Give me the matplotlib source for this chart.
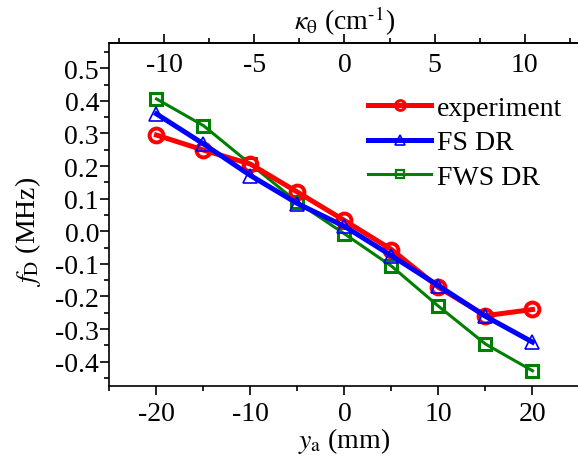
import matplotlib
matplotlib.use("Agg")
import matplotlib.pyplot as plt
from matplotlib.lines import Line2D
from matplotlib.ticker import MultipleLocator, FormatStrFormatter

plt.rcParams['font.family'] = ['Liberation Serif', 'DejaVu Serif']
plt.rcParams['mathtext.fontset'] = 'stix'
plt.rcParams['axes.unicode_minus'] = False

# data
y_a = [-20, -15, -10, -5, 0, 5, 10, 15, 20]
experiment = [0.295, 0.249, 0.206, 0.120, 0.033, -0.056, -0.172, -0.259, -0.240]
fs_dr = [0.360, 0.268, 0.171, 0.085, 0.015, -0.075, -0.167, -0.261, -0.340]
fws_dr = [0.406, 0.324, 0.206, 0.089, -0.008, -0.107, -0.230, -0.346, -0.428]
labels = ['experiment', 'FS DR', 'FWS DR']
kappa_ticks = [-10, -5, 0, 5, 10]
k_scale = 0.522  # kappa (cm^-1) per mm

fs = 20
fig = plt.figure(figsize=(5.78, 4.60), dpi=100)
ax = fig.add_axes([0.1894, 0.1578, 0.8132, 0.7476])

ax.plot(y_a, experiment, color='red', lw=3.6, marker='o', ms=10, mfc='none',
        mew=2.8, zorder=3)
ax.plot(y_a, fs_dr, color='blue', lw=3.6, marker='^', ms=10, mfc='none',
        mew=1.2, zorder=4)
ax.plot(y_a, fws_dr, color='green', lw=2.2, marker='s', ms=9, mfc='none',
        mew=2.2, zorder=2)

ax.set_xlim(-25, 25)
ax.set_ylim(-0.476, 0.579)
ax.xaxis.set_major_locator(MultipleLocator(10))
ax.xaxis.set_minor_locator(MultipleLocator(5))
ax.yaxis.set_major_locator(MultipleLocator(0.1))
ax.yaxis.set_minor_locator(MultipleLocator(0.05))
ax.yaxis.set_major_formatter(FormatStrFormatter('%.1f'))
ax.tick_params(which='both', direction='out', labelsize=fs, width=1.2)
ax.tick_params(which='major', length=6.5)
ax.tick_params(which='minor', length=3.5)
ax.tick_params(axis='x', top=False, pad=4)
ax.tick_params(axis='y', right=False, pad=1)
ax.spines['right'].set_visible(False)
for s in ax.spines.values():
    s.set_linewidth(1.2)

ax.set_xlabel(r'$y_{\rm a}$ (mm)', fontsize=fs, labelpad=-1)
ax.set_ylabel(r'$f_{\rm D}$ (MHz)', fontsize=fs)
ax.yaxis.set_label_coords(-0.142, 0.452)

# top axis: kappa, tick labels drawn inside the frame
top = ax.secondary_xaxis('top', functions=(lambda x: x * k_scale, lambda k: k / k_scale))
top.set_xticks(kappa_ticks)
top.xaxis.set_minor_locator(MultipleLocator(2.5))
top.tick_params(which='both', direction='out', labelsize=fs, width=1.2)
top.tick_params(which='major', length=6.5, pad=-31)
top.tick_params(which='minor', length=3.5)
top.spines['top'].set_linewidth(1.2)
top.set_xlabel(r'$\kappa_{\mathrm{θ}}$ (cm$^{\text{-1}}$)', fontsize=fs, labelpad=3)

handles = [
    Line2D([], [], color='red', lw=3.6, marker='o', ms=7, mfc='none', mew=2.2),
    Line2D([], [], color='blue', lw=3.6, marker='^', ms=7, mfc='none', mew=1.2),
    Line2D([], [], color='green', lw=2.2, marker='s', ms=6, mfc='none', mew=1.6),
]
fig.legend(handles, labels, loc='upper left', bbox_to_anchor=(0.636, 0.79),
           frameon=False, fontsize=fs, handlelength=2.3, handletextpad=0.2,
           labelspacing=0.32, borderaxespad=0, borderpad=0)

fig.savefig('out.png', dpi=100)
